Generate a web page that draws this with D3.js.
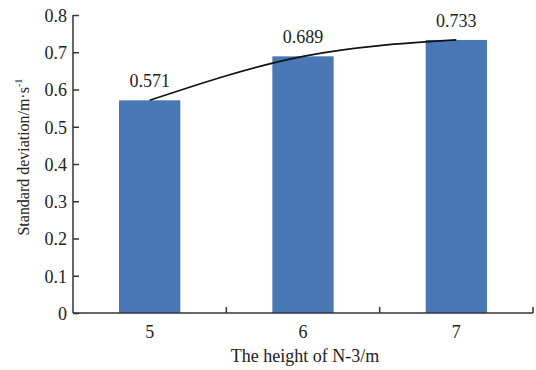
<!DOCTYPE html>
<html><head><meta charset="utf-8">
<script src="https://cdn.jsdelivr.net/npm/d3@7"></script>
<style>body{margin:0;background:#fff}svg{display:block}text{font-family:"Liberation Serif","Times New Roman",serif;fill:#222}</style>
</head><body>
<svg id="c" width="536" height="370"></svg>
<script>
const categories = ["5","6","7"];
const values = [0.571, 0.689, 0.733];
const labels = ["0.571","0.689","0.733"];
const yTicks = [0,0.1,0.2,0.3,0.4,0.5,0.6,0.7,0.8];

const svg = d3.select("#c");
const mLeft = 73, mRight = 533, mTop = 15, mBottom = 313;
const x = d3.scaleBand().domain(categories).range([mLeft, mRight]).paddingInner(0.6).paddingOuter(0.3);
const y = d3.scaleLinear().domain([0, 0.8]).range([mBottom, mTop]);

svg.selectAll("rect.bar").data(values).enter().append("rect")
  .attr("class","bar")
  .attr("x",(d,i)=>x(categories[i]))
  .attr("width",x.bandwidth())
  .attr("y",d=>y(d))
  .attr("height",d=>y(0)-y(d))
  .attr("fill","#4a78b6");

// trend curve
const line = d3.line().x((d,i)=>x(categories[i])+x.bandwidth()/2).y(d=>y(d)).curve(d3.curveNatural);
svg.append("path").attr("d", line(values)).attr("fill","none").attr("stroke","#111").attr("stroke-width",1.7);

// value labels
svg.selectAll("text.val").data(values).enter().append("text")
  .attr("class","val")
  .attr("x",(d,i)=>x(categories[i])+x.bandwidth()/2)
  .attr("y",d=>y(d)-13)
  .attr("text-anchor","middle")
  .attr("font-size",18)
  .text((d,i)=>labels[i]);

// y axis
const yAxis = svg.append("g").attr("transform",`translate(${mLeft},0)`)
  .call(d3.axisLeft(y).tickValues(yTicks).tickSize(-6).tickPadding(6).tickFormat(d=>d===0?"0":d3.format(".1f")(d)));
yAxis.select(".domain").attr("stroke","#333").attr("stroke-width",1.5).attr("d",`M0,${mTop}V${mBottom}`);
yAxis.selectAll(".tick line").attr("stroke","#333").attr("stroke-width",1.5);
yAxis.selectAll(".tick text").attr("font-size",18).attr("font-family","Liberation Serif").attr("fill","#222").attr("dy","0.35em");

// x axis
const xAxis = svg.append("g").attr("transform",`translate(0,${mBottom})`);
xAxis.append("path").attr("d",`M${mLeft},0H${mRight}`).attr("stroke","#333").attr("stroke-width",1.5).attr("fill","none");
const sepTicks = categories.slice(1).map(c=>x(c)-x.step()*x.paddingInner()/2).concat([mRight]);
xAxis.selectAll("line.sep").data(sepTicks).enter().append("line")
  .attr("x1",d=>d).attr("x2",d=>d).attr("y1",0).attr("y2",-6)
  .attr("stroke","#333").attr("stroke-width",1.5);
xAxis.selectAll("text.xl").data(categories).enter().append("text")
  .attr("x",d=>x(d)+x.bandwidth()/2).attr("y",25)
  .attr("text-anchor","middle").attr("font-size",18).text(d=>d);

// titles
svg.append("text").attr("x",305).attr("y",362).attr("text-anchor","middle").attr("font-size",18)
  .text("The height of N-3/m");
const yt = svg.append("text").attr("transform","translate(29,157) rotate(-90)").attr("text-anchor","middle").attr("font-size",17)
  .attr("textLength",157).attr("lengthAdjust","spacingAndGlyphs");
yt.append("tspan").text("Standard deviation/m·s");
yt.append("tspan").attr("font-size",11).attr("dy",-7).text("-1");
</script>
</body></html>
